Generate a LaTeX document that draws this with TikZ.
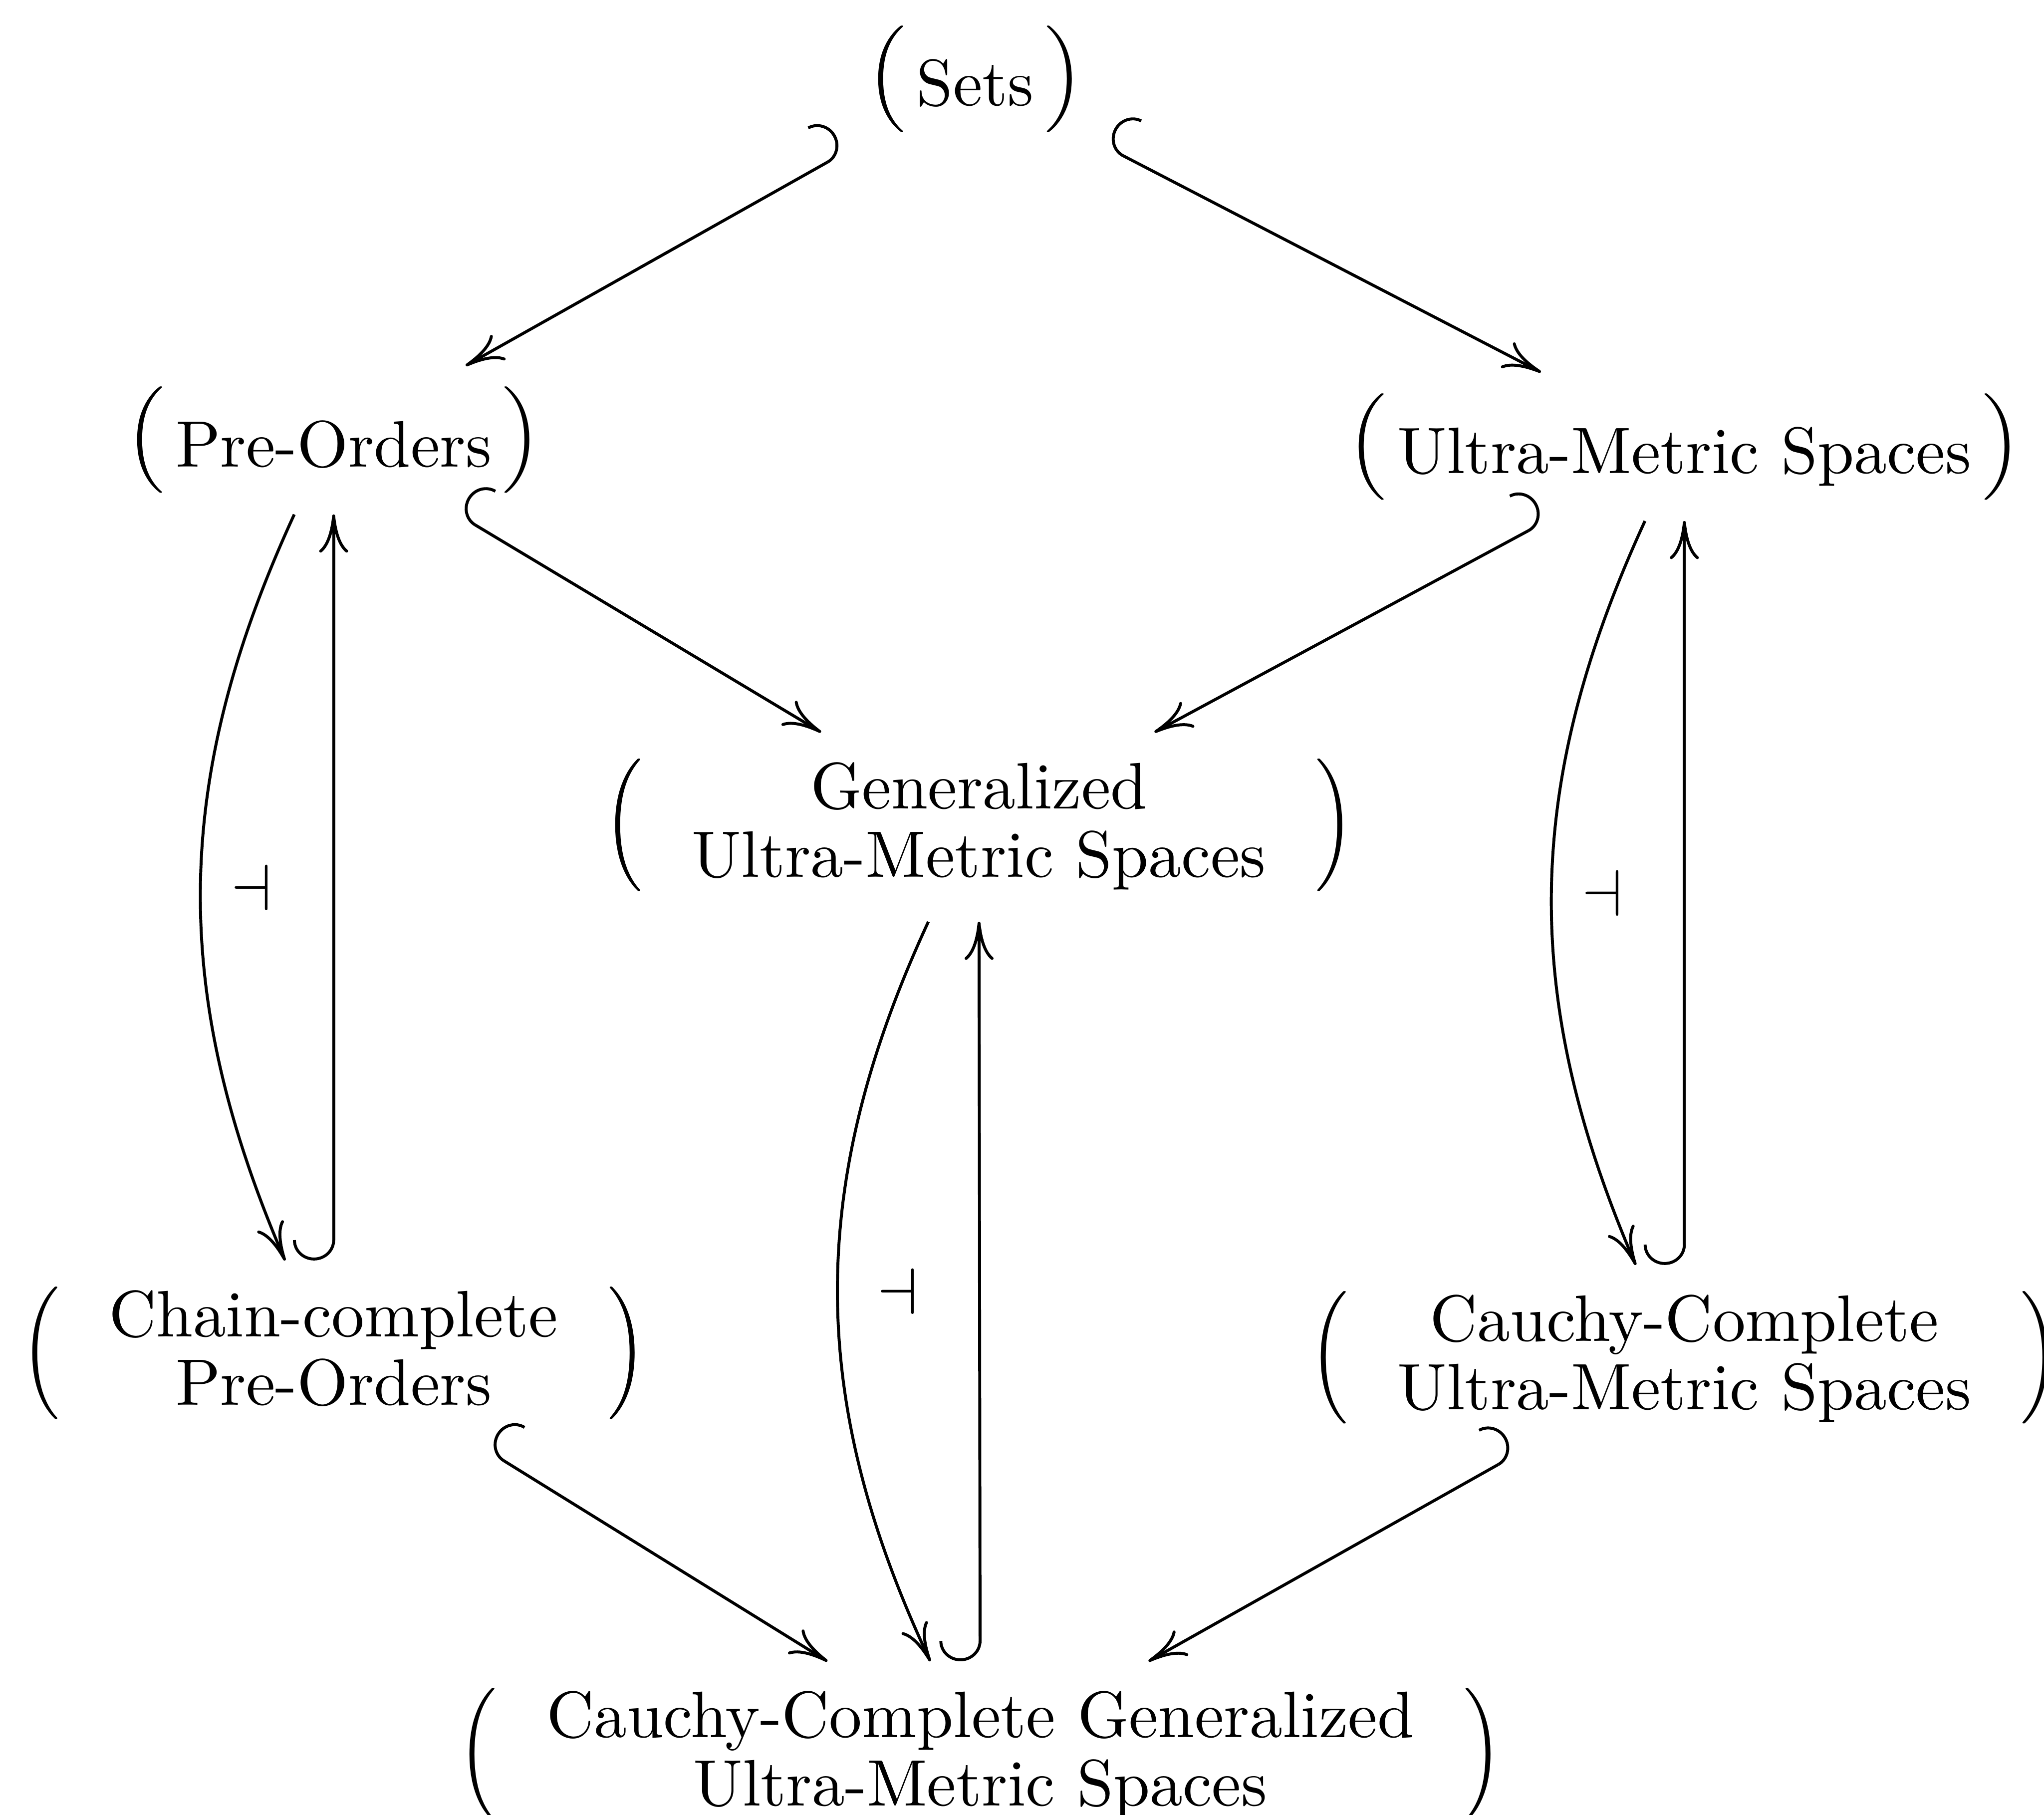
\documentclass[tikz,border=0pt]{standalone}
\usepackage{amsmath}
\usepackage{graphicx}
\usetikzlibrary{arrows.meta}
\setlength{\arraycolsep}{7.5pt}

\newcommand{\parl}[1]{\scalebox{1}[#1]{$\Big($}}
\newcommand{\parr}[1]{\scalebox{1}[#1]{$\Big)$}}
\newcommand{\onecat}[1]{$\raisebox{1.8pt}{\parl{0.9}}\mkern3mu\text{#1}\mkern3mu\raisebox{1.8pt}{\parr{0.9}}$}
\newcommand{\twocat}[2]{$\parl{1.12}\begin{array}{c}\text{#1}\\[-1.6pt]\text{#2}\end{array}\parr{1.12}$}

\begin{document}
\begin{tikzpicture}[line width=0.45pt,
    >={Computer Modern Rightarrow[length=5.8pt,width=4.4pt]},
    cat/.style={inner sep=3pt},
    incl/.style={{Hooks[right,length=3.1pt,width=12.4pt]}->},
    incl'/.style={{Hooks[left,length=3.1pt,width=12.4pt]}->},
    adj/.style={xshift=-12.5pt}]
  \useasboundingbox (0,0) rectangle (10.935,-9.708);

  \node[cat] (sets) at (5.217,-0.423) {\onecat{Sets}};
  \node[cat] (pre) at (1.785,-2.354) {\onecat{Pre-Orders}};
  \node[cat] (ums) at (9.011,-2.389) {\onecat{Ultra-Metric Spaces}};
  \node[cat] (gums) at (5.237,-4.424) {\twocat{Generalized}{Ultra-Metric Spaces}};
  \node[cat] (ccpre) at (1.785,-7.250) {\twocat{Chain-complete}{Pre-Orders}};
  \node[cat] (ccums) at (9.011,-7.274) {\twocat{Cauchy-Complete}{Ultra-Metric Spaces}};
  \node[cat] (ccgums) at (5.244,-9.394) {\twocat{Cauchy-Complete Generalized}{Ultra-Metric Spaces}};

  \draw[incl'] (sets) -- (pre);
  \draw[incl] (sets) -- (ums);
  \draw[incl] (pre) -- (gums);
  \draw[incl'] (ums) -- (gums);
  \draw[incl] (ccpre) -- (ccgums);
  \draw[incl'] (ccums) -- (ccgums);

  \draw[incl] (ccpre) -- (pre);
  \draw[->] ([xshift=-6pt]pre.south) to[bend right=24] ([xshift=-7.4pt]ccpre.north);
  \path (pre) -- node[adj] {$\dashv$} (ccpre);

  \draw[incl] (ccgums) -- (gums);
  \draw[->] ([xshift=-7.7pt]gums.south) to[bend right=25] ([xshift=-7.6pt]ccgums.north);
  \path (gums) -- node[adj] {$\dashv$} (ccgums);

  \draw[incl] (ccums) -- (ums);
  \draw[->] ([xshift=-6pt]ums.south) to[bend right=24] ([xshift=-7.4pt]ccums.north);
  \path (ums) -- node[adj] {$\dashv$} (ccums);
\end{tikzpicture}
\end{document}
